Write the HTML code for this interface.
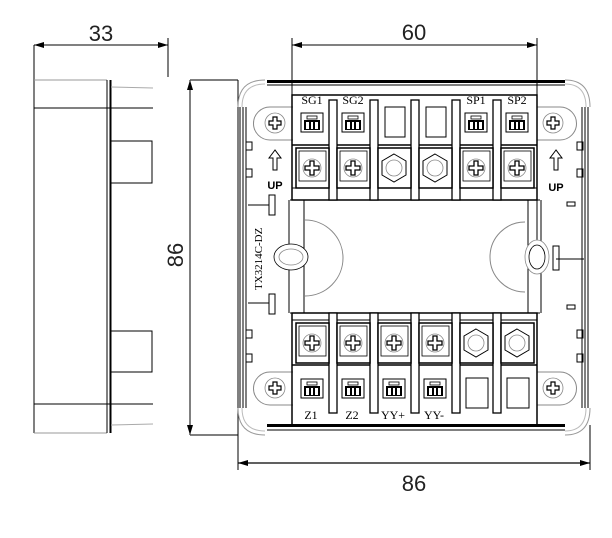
<!DOCTYPE html>
<html><head><meta charset="utf-8"><style>
html,body{margin:0;padding:0;background:#fff;width:612px;height:538px;overflow:hidden}
svg{display:block}
text{font-family:"Liberation Serif",serif;fill:#000}
.d{font-family:"Liberation Sans",sans-serif;font-size:22px;fill:#222}
</style></head><body>
<svg width="612" height="538" viewBox="0 0 612 538" xmlns="http://www.w3.org/2000/svg">
<defs>
<marker id="ar" viewBox="0 0 10 6" refX="10" refY="3" markerWidth="10" markerHeight="6" orient="auto-start-reverse" markerUnits="userSpaceOnUse"><path d="M0,0L10,3L0,6z" fill="#000"/></marker>
<g id="screw"><rect x="-16" y="-20" width="33" height="40" fill="#fff" stroke="#000" stroke-width="1.5"/><rect x="-13" y="-17" width="27" height="30" fill="none" stroke="#000" stroke-width="0.8"/><circle r="9" fill="none" stroke="#888" stroke-width="0.8"/><path d="M-2,-7h4v5h5v4h-5v5h-4v-5h-5v-4h5z" fill="#fff" stroke="#000" stroke-width="1.3"/></g>
<g id="hex"><rect x="-16" y="-20" width="33" height="40" fill="#fff" stroke="#000" stroke-width="1.5"/><polygon points="0,-14 12,-7 12,7 0,14 -12,7 -12,-7" fill="none" stroke="#000" stroke-width="1"/><circle r="8" fill="none" stroke="#888" stroke-width="0.8"/></g>
<g id="clamp"><rect x="-11" y="-7" width="22" height="19" fill="#fff" stroke="#000" stroke-width="1"/><rect x="-8" y="0" width="16" height="10" fill="#000"/><rect x="-6" y="2" width="3" height="7" fill="#fff"/><rect x="-1" y="2" width="2" height="7" fill="#fff"/><rect x="3" y="2" width="3" height="7" fill="#fff"/><rect x="-5" y="-4" width="10" height="3" fill="none" stroke="#000" stroke-width="0.8"/></g>
<g id="ear"><circle r="10" fill="none" stroke="#888" stroke-width="0.8"/><path d="M-2,-6h4v4h4v4h-4v4h-4v-4h-4v-4h4z" fill="#fff" stroke="#000" stroke-width="1.2"/></g>
</defs>

<!-- Side view -->
<g stroke="#000" stroke-width="1" fill="none">
<line x1="34" y1="45" x2="34" y2="433"/>
<line x1="34" y1="80" x2="107" y2="80" stroke="#999"/>
<line x1="34" y1="433" x2="107" y2="433" stroke="#999"/>
<line x1="34" y1="108" x2="153" y2="108"/>
<line x1="34" y1="404" x2="153" y2="404"/>
<line x1="107" y1="80" x2="107" y2="433"/>
<line x1="110.5" y1="80" x2="110.5" y2="433" stroke-width="2"/>
<line x1="111" y1="87" x2="153" y2="88" stroke="#aaa"/>
<line x1="111" y1="425" x2="153" y2="424" stroke="#aaa"/>
<path d="M111,141H152V183H111" />
<path d="M111,331H152V372H111" />
<line x1="168" y1="38" x2="168" y2="77"/>
<line x1="34" y1="45" x2="168" y2="45" marker-start="url(#ar)" marker-end="url(#ar)"/>
<line x1="190" y1="80" x2="190" y2="435" marker-start="url(#ar)" marker-end="url(#ar)"/>
<line x1="190" y1="80" x2="238" y2="80" stroke="#555" stroke-width="1.5"/>
<line x1="190" y1="435" x2="238" y2="435" stroke="#555" stroke-width="1.5"/>
</g>
<text class="d" x="101" y="41" text-anchor="middle">33</text>
<text class="d" transform="translate(183,255) rotate(-90)" text-anchor="middle">86</text>

<!-- Front view outer -->
<g stroke="#000" fill="none" stroke-width="1">
<line x1="238" y1="80" x2="238" y2="470"/>
<line x1="590" y1="425" x2="590" y2="470"/>
<line x1="238" y1="463" x2="590" y2="463" marker-start="url(#ar)" marker-end="url(#ar)" stroke-width="1.3"/>
<line x1="292" y1="38" x2="292" y2="200"/>
<line x1="537" y1="38" x2="537" y2="270"/>
<line x1="292" y1="45" x2="537" y2="45" marker-start="url(#ar)" marker-end="url(#ar)"/>
<path d="M238,107 Q238,80 265,80 M565,80 Q590,80 590,107 M238,408 Q238,435 265,435 M590,408 Q590,435 565,435" stroke="#999"/>
<path d="M242,107 Q242,84 265,84 M565,84 Q586,84 586,107 M242,408 Q242,431 265,431 M586,408 Q586,431 565,431" stroke="#bbb"/>
<rect x="267" y="80" width="298" height="3" fill="#000" stroke="none"/>
<line x1="267" y1="85" x2="565" y2="85"/>
<rect x="267" y="424" width="298" height="3" fill="#000" stroke="none"/>
<line x1="267" y1="430" x2="565" y2="430"/>
<line x1="240" y1="107" x2="240" y2="408"/><line x1="243" y1="107" x2="243" y2="408"/><line x1="246" y1="107" x2="246" y2="408"/>
<line x1="582" y1="107" x2="582" y2="408"/><line x1="585" y1="107" x2="585" y2="408"/><line x1="588" y1="107" x2="588" y2="408"/>
<rect x="246" y="142" width="6" height="8"/><rect x="246" y="169" width="6" height="8"/>
<rect x="246" y="330" width="6" height="8"/><rect x="246" y="354" width="6" height="8"/>
<rect x="577" y="142" width="6" height="8"/><rect x="577" y="169" width="6" height="8"/>
<rect x="577" y="330" width="6" height="8"/><rect x="577" y="354" width="6" height="8"/>
<line x1="248" y1="205" x2="269" y2="205"/><rect x="269" y="195" width="6" height="20"/>
<line x1="248" y1="303" x2="269" y2="303"/><rect x="269" y="294" width="6" height="20"/>
<line x1="556" y1="259" x2="584" y2="259"/><rect x="553" y="246" width="6" height="24"/>
<rect x="567" y="202" width="8" height="4"/><rect x="567" y="305" width="8" height="4"/>
<!-- middle frame -->
<path d="M289,200V313 M304,200V313 M528,200V313 M541,200V313" />
<path d="M290,200H540 M290,313H540"/>
<path d="M305,220 A33,33 0 0 1 305,296" stroke="#888" fill="#fff"/>
<ellipse cx="291" cy="257" rx="17" ry="13" fill="#fff" stroke-width="0.8"/><ellipse cx="291" cy="257" rx="12" ry="8" stroke="#888" stroke-width="0.8"/>
<path d="M525,222 A33,33 0 0 0 525,292" stroke="#888" fill="#fff"/>
<ellipse cx="537" cy="257" rx="12" ry="17" stroke="#888" fill="#fff" stroke-width="0.8"/><ellipse cx="537" cy="257" rx="8" ry="12" stroke-width="0.8"/>
<!-- ears -->
<path d="M293,107H270 A16,16 0 0 0 270,140H293" stroke="#888"/>
<path d="M537,107H560 A16,16 0 0 1 560,140H537" stroke="#888"/>
<path d="M293,372H270 A16,16 0 0 0 270,405H293" stroke="#888"/>
<path d="M537,372H560 A16,16 0 0 1 560,405H537" stroke="#888"/>
<!-- blocks -->
<rect x="292" y="95" width="245" height="105" stroke-width="1.5"/>
<line x1="292" y1="145" x2="537" y2="145" stroke-width="1.5"/>
<line x1="292" y1="188" x2="537" y2="188"/>
<rect x="292" y="313" width="245" height="112" stroke-width="1.5"/>
<line x1="292" y1="365" x2="537" y2="365" stroke-width="1.5"/>
<line x1="292" y1="320" x2="537" y2="320"/>
</g>
<!-- separators -->
<g fill="#fff" stroke="#000" stroke-width="1.3">
<rect x="329" y="100" width="8" height="100"/><rect x="370" y="100" width="8" height="100"/><rect x="411" y="100" width="8" height="100"/><rect x="452" y="100" width="8" height="100"/><rect x="493" y="100" width="8" height="100"/>
<rect x="329" y="313" width="8" height="100"/><rect x="370" y="313" width="8" height="100"/><rect x="411" y="313" width="8" height="100"/><rect x="452" y="313" width="8" height="100"/><rect x="493" y="313" width="8" height="100"/>
</g>
<use href="#ear" x="275" y="123"/><use href="#ear" x="553" y="123"/>
<use href="#ear" x="275" y="388"/><use href="#ear" x="553" y="388"/>
<use href="#clamp" x="312" y="120"/><use href="#clamp" x="353" y="120"/>
<rect x="385" y="107" width="20" height="30" fill="none" stroke="#000"/><rect x="426" y="107" width="20" height="30" fill="none" stroke="#000"/>
<use href="#clamp" x="476" y="120"/><use href="#clamp" x="517" y="120"/>
<use href="#screw" x="312" y="168"/><use href="#screw" x="353" y="168"/><use href="#hex" x="394" y="168"/><use href="#hex" x="435" y="168"/><use href="#screw" x="476" y="168"/><use href="#screw" x="517" y="168"/>
<use href="#screw" x="312" y="343"/><use href="#screw" x="353" y="343"/><use href="#screw" x="394" y="343"/><use href="#screw" x="435" y="343"/><use href="#hex" x="476" y="343"/><use href="#hex" x="517" y="343"/>
<use href="#clamp" x="312" y="386"/><use href="#clamp" x="353" y="386"/><use href="#clamp" x="394" y="386"/><use href="#clamp" x="435" y="386"/>
<rect x="466" y="378" width="22" height="30" fill="none" stroke="#000"/><rect x="507" y="378" width="22" height="30" fill="none" stroke="#000"/>
<g font-size="12">
<text x="312" y="104" text-anchor="middle">SG1</text><text x="353" y="104" text-anchor="middle">SG2</text>
<text x="476" y="104" text-anchor="middle">SP1</text><text x="517" y="104" text-anchor="middle">SP2</text>
<text x="311" y="419" text-anchor="middle">Z1</text><text x="352" y="419" text-anchor="middle">Z2</text>
<text x="393" y="419" text-anchor="middle">YY+</text><text x="434" y="419" text-anchor="middle">YY-</text>
</g>
<text font-size="11" transform="translate(262,290) rotate(-90)">TX3214C-DZ</text>
<g fill="none" stroke="#000" stroke-width="1">
<path d="M275,150L269,158H273V170H277V158H281Z"/>
<path d="M556,150L550,158H554V170H558V158H562Z"/>
</g>
<text x="275" y="189" font-size="11" font-weight="bold" text-anchor="middle" style="font-family:'Liberation Sans',sans-serif">UP</text>
<text x="556" y="191" font-size="11" font-weight="bold" text-anchor="middle" style="font-family:'Liberation Sans',sans-serif">UP</text>
<text class="d" x="414" y="40" text-anchor="middle">60</text>
<text class="d" x="414" y="491" text-anchor="middle">86</text>
</svg>
</body></html>
